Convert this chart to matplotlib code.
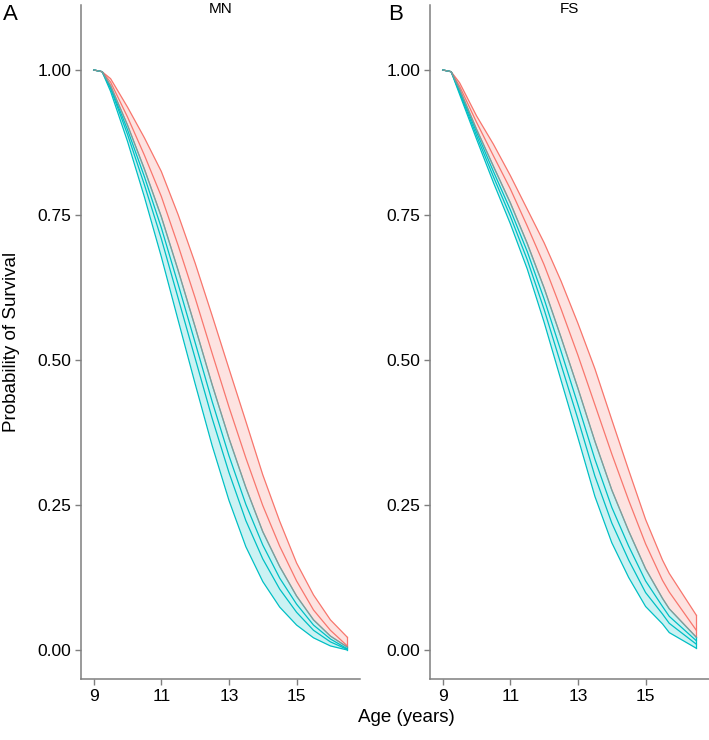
import matplotlib
matplotlib.use('Agg')
import matplotlib.pyplot as plt

plt.rcParams['font.family'] = ['Liberation Sans', 'DejaVu Sans']

# ages at which the curves are drawn
age_mn = [9, 9.25, 9.5, 10, 10.5, 11, 11.5, 12, 12.5, 13, 13.5, 14, 14.5, 15, 15.5, 16, 16.5]
age_fs = [9, 9.25, 9.5, 10, 10.5, 11, 11.5, 12, 12.5, 13, 13.5, 14, 14.5, 15, 15.5, 15.7, 16.5]

# panel A (MN): teal band and its inner lines
mn_teal_lo = [1.0, 0.997, 0.963, 0.877, 0.781, 0.678, 0.568, 0.459, 0.353, 0.258, 0.178, 0.118, 0.074, 0.043, 0.021, 0.007, 0.0]
mn_teal_mid = [1.0, 0.997, 0.968, 0.889, 0.802, 0.709, 0.606, 0.503, 0.400, 0.306, 0.223, 0.157, 0.105, 0.065, 0.034, 0.014, 0.001]
mn_teal_mid2 = [1.0, 0.997, 0.970, 0.897, 0.816, 0.728, 0.630, 0.530, 0.429, 0.335, 0.251, 0.181, 0.124, 0.079, 0.043, 0.019, 0.002]
mn_teal_hi = [1.0, 0.997, 0.973, 0.905, 0.829, 0.747, 0.654, 0.557, 0.458, 0.365, 0.280, 0.204, 0.144, 0.093, 0.052, 0.024, 0.005]
# panel A (MN): red band (its lower edge is the teal upper edge)
mn_red_mid = [1.0, 0.997, 0.979, 0.919, 0.853, 0.782, 0.697, 0.607, 0.512, 0.419, 0.331, 0.249, 0.179, 0.119, 0.069, 0.034, 0.007]
mn_red_hi = [1.0, 0.997, 0.985, 0.936, 0.883, 0.825, 0.750, 0.667, 0.577, 0.485, 0.394, 0.302, 0.222, 0.150, 0.095, 0.052, 0.022]

# panel B (FS)
fs_teal_lo = [1.0, 0.997, 0.958, 0.881, 0.806, 0.735, 0.657, 0.565, 0.465, 0.366, 0.265, 0.185, 0.125, 0.075, 0.045, 0.030, 0.003]
fs_teal_mid = [1.0, 0.997, 0.961, 0.887, 0.816, 0.748, 0.673, 0.587, 0.492, 0.398, 0.300, 0.219, 0.155, 0.099, 0.062, 0.046, 0.010]
fs_teal_mid2 = [1.0, 0.997, 0.964, 0.893, 0.825, 0.759, 0.687, 0.605, 0.515, 0.423, 0.329, 0.246, 0.179, 0.119, 0.075, 0.058, 0.016]
fs_teal_hi = [1.0, 0.997, 0.967, 0.898, 0.834, 0.771, 0.701, 0.624, 0.539, 0.451, 0.360, 0.276, 0.205, 0.140, 0.089, 0.071, 0.022]
fs_red_mid = [1.0, 0.997, 0.972, 0.910, 0.852, 0.795, 0.731, 0.664, 0.588, 0.508, 0.423, 0.338, 0.258, 0.183, 0.120, 0.100, 0.034]
fs_red_hi = [1.0, 0.997, 0.978, 0.921, 0.872, 0.818, 0.760, 0.702, 0.636, 0.563, 0.485, 0.397, 0.310, 0.225, 0.155, 0.132, 0.060]

panel_titles = ['MN', 'FS']
panel_tags = ['A', 'B']
y_ticks = [0, 0.25, 0.5, 0.75, 1.0]
y_labels = ['0.00', '0.25', '0.50', '0.75', '1.00']
x_ticks = [9, 11, 13, 15]

RED = '#F8766D'
TEAL = '#00BFC4'
AXIS_GREY = '#7f7f7f'
LW = 0.9


def draw_panel(ax, x, t_lo, t_mid, t_mid2, edge, r_mid, r_hi):
    # red ribbon: from shared edge up to red upper bound
    ax.fill_between(x, edge, r_hi, color=RED, alpha=0.2, lw=0)
    ax.plot(x, r_hi, color=RED, lw=LW)
    ax.plot(x, r_mid, color=RED, lw=LW)
    ax.plot([x[-1], x[-1]], [edge[-1], r_hi[-1]], color=RED, lw=LW)
    # teal ribbon: from teal lower bound up to shared edge
    ax.fill_between(x, t_lo, edge, color=TEAL, alpha=0.2, lw=0)
    ax.plot(x, t_lo, color=TEAL, lw=LW)
    ax.plot(x, t_mid, color=TEAL, lw=LW)
    ax.plot(x, t_mid2, color=TEAL, lw=LW)
    ax.plot(x, edge, color=TEAL, lw=LW)
    ax.plot([x[-1], x[-1]], [t_lo[-1], edge[-1]], color=TEAL, lw=LW)
    # red outline drawn over the teal one -> greyish shared edge
    ax.plot(x, edge, color=RED, lw=LW, alpha=0.55)


def style_axes(ax):
    ax.set_xlim(8.625, 16.875)
    ax.set_ylim(-0.05, 1.112)
    ax.set_xticks(x_ticks)
    ax.set_xticklabels([str(t) for t in x_ticks])
    ax.set_yticks(y_ticks)
    ax.set_yticklabels(y_labels)
    for side in ['top', 'right']:
        ax.spines[side].set_visible(False)
    for side in ['left', 'bottom']:
        ax.spines[side].set_color(AXIS_GREY)
        ax.spines[side].set_linewidth(1.1)
    ax.tick_params(axis='both', colors=AXIS_GREY, length=4, width=1.0,
                   labelsize=12.5, labelcolor='black', pad=3)


fig = plt.figure(figsize=[7.09, 7.40], dpi=100)
ax_a = fig.add_axes([81 / 709, 1 - 679 / 740, 279 / 709, 674 / 740])
ax_b = fig.add_axes([430 / 709, 1 - 679 / 740, 279 / 709, 674 / 740])

draw_panel(ax_a, age_mn, mn_teal_lo, mn_teal_mid, mn_teal_mid2, mn_teal_hi, mn_red_mid, mn_red_hi)
draw_panel(ax_b, age_fs, fs_teal_lo, fs_teal_mid, fs_teal_mid2, fs_teal_hi, fs_red_mid, fs_red_hi)

for ax, title in zip([ax_a, ax_b], panel_titles):
    style_axes(ax)
    bb = ax.get_position()
    fig.text((bb.x0 + bb.x1) / 2, 1 - 9 / 740, title, ha='center', va='center', fontsize=11)

fig.text(10 / 709, 1 - 15 / 740, panel_tags[0], ha='center', va='center', fontsize=16)
fig.text(396 / 709, 1 - 15 / 740, panel_tags[1], ha='center', va='center', fontsize=16)

fig.text(406 / 709, 1 - 718 / 740, 'Age (years)', ha='center', va='center', fontsize=13.5)
fig.text(12 / 709, 1 - 342 / 740, 'Probability of Survival', ha='center', va='center',
         rotation=90, fontsize=13.5)

fig.savefig('out.png', dpi=100)
